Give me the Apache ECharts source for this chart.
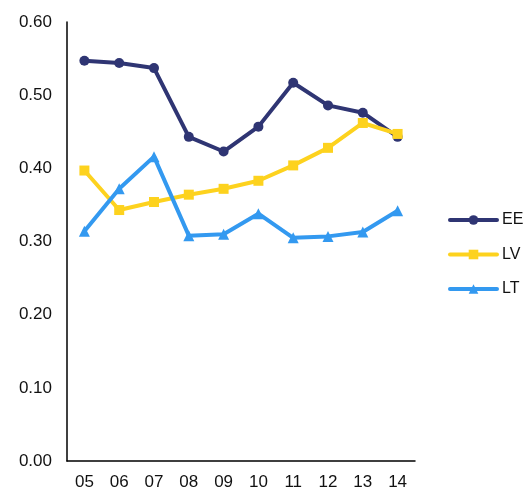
<!DOCTYPE html>
<html>
<head>
<meta charset="utf-8">
<script src="https://cdn.jsdelivr.net/npm/echarts@6/dist/echarts.min.js"></script>
<style>html,body{margin:0;padding:0;background:#fff}#c{width:524px;height:491px}</style>
</head>
<body>
<div id="c"></div>
<script>
const categories = ['05','06','07','08','09','10','11','12','13','14'];
const EE = [0.547, 0.544, 0.537, 0.443, 0.423, 0.457, 0.517, 0.486, 0.476, 0.443];
const LV = [0.397, 0.343, 0.354, 0.364, 0.372, 0.383, 0.404, 0.428, 0.462, 0.447];
const LT = [0.314, 0.372, 0.416, 0.308, 0.310, 0.338, 0.305, 0.307, 0.313, 0.342];
const yTicks = { min: 0, max: 0.6, interval: 0.1 };

const font = 'Liberation Sans, Arial, sans-serif';
const chart = echarts.init(document.getElementById('c'));
function mk(name, data, color, symbol, size) {
  return {
    name, type: 'line', data, symbol, symbolSize: size,
    itemStyle: { color },
    lineStyle: { color, width: 4, cap: 'round', join: 'round' },
    emphasis: { disabled: true }
  };
}
chart.setOption({
  animation: false,
  textStyle: { fontFamily: font },
  grid: { left: 67, right: 109, top: 22, bottom: 29, containLabel: false },
  legend: {
    orient: 'vertical', left: 443, top: 207, itemGap: 18.5,
    itemWidth: 47, itemHeight: 12,
    lineStyle: { width: 4, cap: 'round' },
    textStyle: { fontSize: 16, color: '#111', fontFamily: font },
    data: ['EE', 'LV', 'LT']
  },
  xAxis: {
    type: 'category', data: categories, boundaryGap: true,
    axisLine: { lineStyle: { color: '#000', width: 1.5 } },
    axisTick: { show: false },
    axisLabel: { color: '#111', fontSize: 17, margin: 13, fontFamily: font }
  },
  yAxis: {
    type: 'value', min: yTicks.min, max: yTicks.max, interval: yTicks.interval,
    axisLine: { show: true, lineStyle: { color: '#000', width: 1.5 } },
    axisTick: { show: false },
    splitLine: { show: false },
    axisLabel: { color: '#111', fontSize: 17, margin: 15, fontFamily: font, formatter: v => v.toFixed(2) }
  },
  series: [
    mk('EE', EE, '#2f3573', 'circle', 10),
    mk('LV', LV, '#fdd21e', 'rect', 10),
    mk('LT', LT, '#3399f0', 'triangle', 11)
  ]
});
</script>
</body>
</html>
